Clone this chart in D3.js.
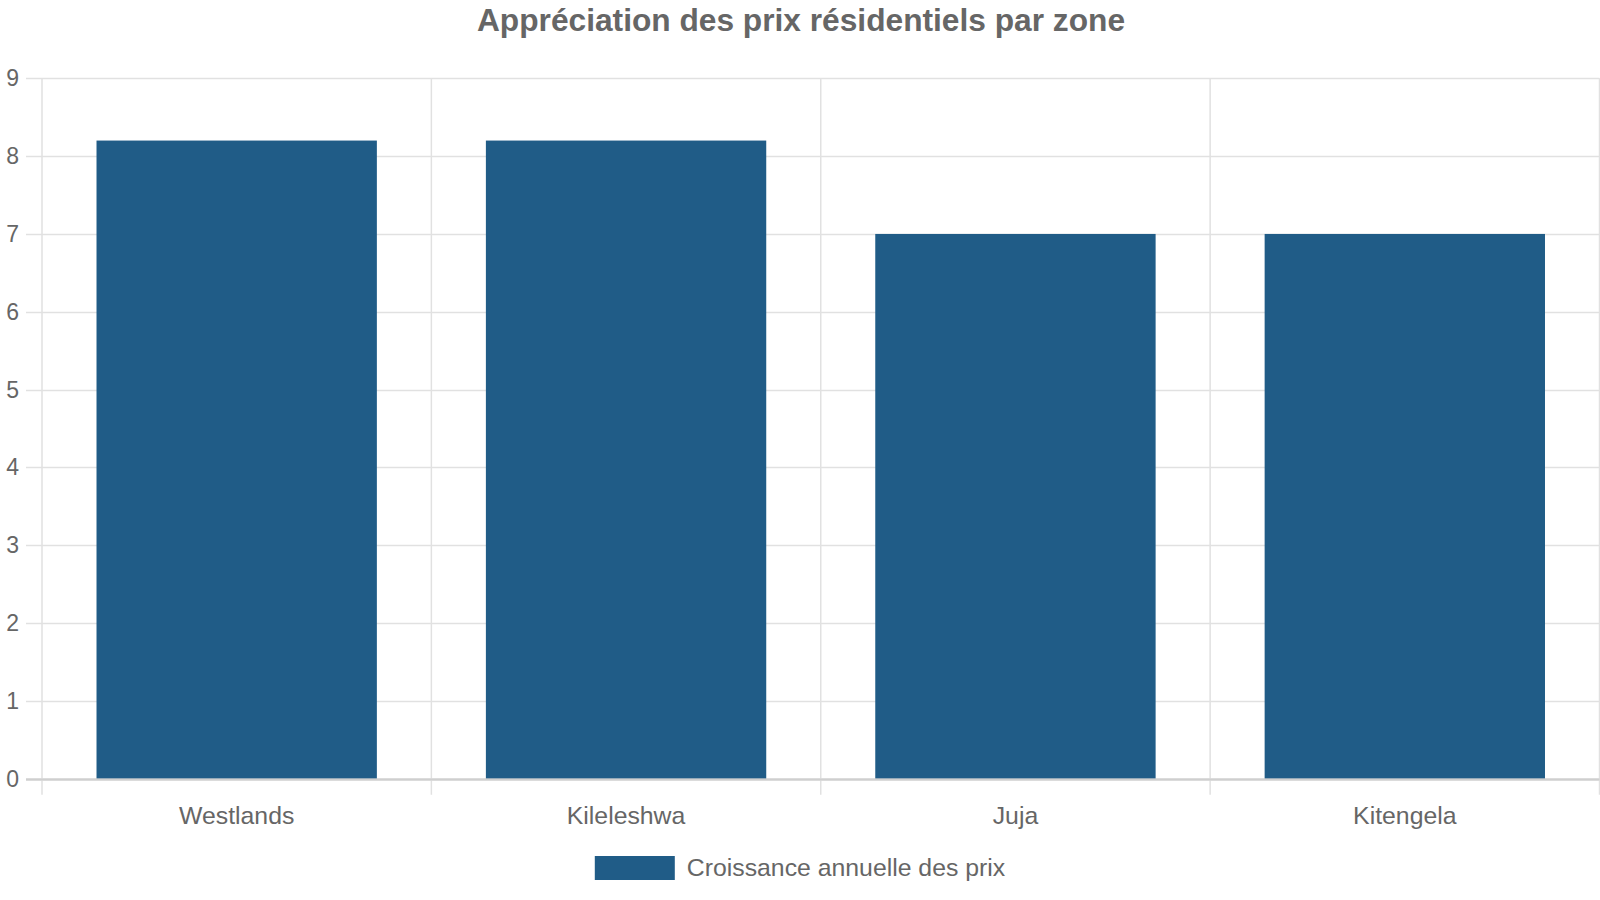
<!DOCTYPE html>
<html>
<head>
<meta charset="utf-8">
<script src="https://cdn.jsdelivr.net/npm/d3@7"></script>
<style>
  html, body { margin: 0; padding: 0; background: #fff; }
  svg { display: block; font-family: "Liberation Sans", Arial, sans-serif; }
</style>
</head>
<body>
<svg id="chart" width="1600" height="900"></svg>
<script>
const title = "Appréciation des prix résidentiels par zone";
const categories = ["Westlands", "Kileleshwa", "Juja", "Kitengela"];
const seriesName = "Croissance annuelle des prix";
const values = [8.2, 8.2, 7.0, 7.0];
const yTicks = [0, 1, 2, 3, 4, 5, 6, 7, 8, 9];

const W = 1600, H = 900;
const m = { left: 42, right: 0.5, top: 78.3, bottom: 121.3 };
const svg = d3.select("#chart");
const textColor = "#666666";
const gridColor = "#e1e1e1";
const barColor = "#205c87";

const x = d3.scaleBand().domain(categories).range([m.left, W - m.right]).paddingInner(0).paddingOuter(0);
const y = d3.scaleLinear().domain([0, 9]).range([H - m.bottom, m.top]);

// horizontal grid lines (with tick extension to the left)
svg.append("g").selectAll("line").data(yTicks).join("line")
  .attr("x1", 26).attr("x2", W - m.right)
  .attr("y1", d => Math.round(y(d)) + 0.5).attr("y2", d => Math.round(y(d)) + 0.5)
  .attr("stroke", d => d === 0 ? "#cfcfcf" : gridColor).attr("stroke-width", d => d === 0 ? 2 : 1.5);

// vertical grid lines at category boundaries
const bounds = categories.map(c => x(c)).concat([W - m.right]);
svg.append("g").selectAll("line").data(bounds).join("line")
  .attr("x1", d => d).attr("x2", d => d)
  .attr("y1", m.top).attr("y2", H - m.bottom + 16)
  .attr("stroke", gridColor).attr("stroke-width", 1.5);

// y labels
svg.append("g").selectAll("text").data(yTicks).join("text")
  .attr("x", 19).attr("y", d => y(d))
  .attr("text-anchor", "end").attr("dominant-baseline", "central")
  .attr("font-size", 23).attr("fill", textColor)
  .text(d => d);

// bars
const bw = x.bandwidth() * 0.72;
svg.append("g").selectAll("rect").data(values).join("rect")
  .attr("x", (d, i) => x(categories[i]) + (x.bandwidth() - bw) / 2)
  .attr("width", bw)
  .attr("y", d => y(d))
  .attr("height", d => y(0) - y(d))
  .attr("fill", barColor);

// redraw baseline on top
svg.append("line")
  .attr("x1", 26).attr("x2", W - m.right)
  .attr("y1", Math.round(y(0)) + 0.5).attr("y2", Math.round(y(0)) + 0.5)
  .attr("stroke", "#cfcfcf").attr("stroke-width", 2);

// x labels
svg.append("g").selectAll("text").data(categories).join("text")
  .attr("x", d => x(d) + x.bandwidth() / 2).attr("y", 823.5)
  .attr("text-anchor", "middle")
  .attr("font-size", 24.8).attr("fill", textColor)
  .text(d => d);

// title
svg.append("text")
  .attr("x", 801).attr("y", 31)
  .attr("text-anchor", "middle")
  .attr("font-size", 31.7).attr("font-weight", "bold").attr("fill", textColor)
  .text(title);

// legend
const lg = svg.append("g");
const legText = lg.append("text")
  .attr("y", 876).attr("font-size", 24.8).attr("fill", textColor)
  .text(seriesName);
const tw = legText.node().getComputedTextLength();
const boxW = 80, gap = 12;
const totalW = boxW + gap + tw;
const lx = (W - totalW) / 2;
lg.append("rect").attr("x", lx).attr("y", 856).attr("width", boxW).attr("height", 24).attr("fill", barColor);
legText.attr("x", lx + boxW + gap);
</script>
</body>
</html>
